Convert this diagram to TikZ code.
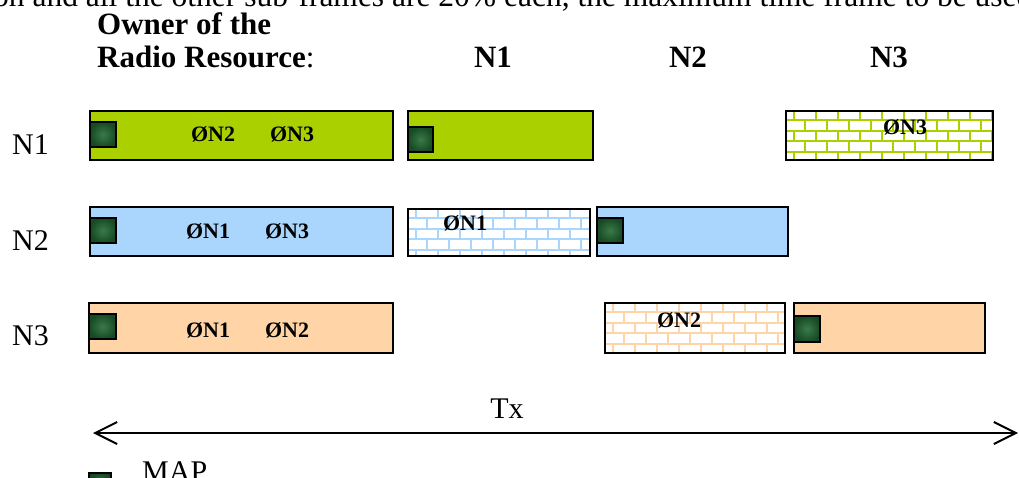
\documentclass[tikz,border=0pt]{standalone}
\usepackage{fontspec}
\setmainfont{Liberation Serif}
\usetikzlibrary{arrows.meta,calc}
\definecolor{cgreen}{HTML}{AAD000}
\definecolor{cblue}{HTML}{AAD5FC}
\definecolor{corange}{HTML}{FFD5A8}
\definecolor{mapdark}{HTML}{174A24}
\definecolor{mapmid}{HTML}{3A7A48}
\tikzset{
  frame/.style={draw=black, line width=2pt, inner sep=0pt, anchor=north west},
  bricks/.style={fill=white, path picture={
    \coordinate (bnw) at (path picture bounding box.north west);
    \foreach \k in {0,...,5} {
      \pgfmathsetmacro{\ya}{(\k-1)*10.7+9}
      \pgfmathsetmacro{\yb}{\ya+10.7}
      \pgfmathsetmacro{\off}{ifthenelse(mod(\k,2)==0,7.7,18.7)}
      \draw[#1, line width=2pt] ($(bnw)+(-5,\yb)$) -- ++(230,0);
      \foreach \j in {0,...,10} {\draw[#1, line width=2pt] ($(bnw)+({\off+22*\j},\ya)$) -- ++(0,10.7);}
    }}},
  mapsq/.style={draw=black, line width=2pt, inner sep=0pt, anchor=north west,
    inner color=mapmid, outer color=mapdark},
  boxtxt/.style={font=\fontsize{22}{24}\selectfont\bfseries, inner sep=0pt, anchor=base},
  head/.style={font=\fontsize{31}{33}\selectfont\bfseries, inner sep=0pt},
  lbl/.style={font=\fontsize{30}{32}\selectfont, inner sep=0pt},
  caplbl/.style={font=\fontsize{31.5}{33}\selectfont, inner sep=0pt},
}
\begin{document}
\begin{tikzpicture}[x=1pt,y=-1pt]
\useasboundingbox (0,0) rectangle (1019,478);
\clip (0,0) rectangle (1019,478);

% clipped caption line at the top
\node[caplbl, anchor=base west] (cap) at (-7,7) {on and all the other sub-frames are 20\% each, the maximum time frame to be used};

% headers
\node[head, anchor=base west] (own) at (97,35) {Owner of the};
\node[head, anchor=base west] (rr) at (97,68) {Radio Resource\textmd{:}};
\node[head, anchor=base] (h1) at (493,68) {N1};
\node[head, anchor=base] (h2) at (688,68) {N2};
\node[head, anchor=base] (h3) at (889,68) {N3};

% row labels
\node[lbl, anchor=base west] (r1) at (12,155) {N1};
\node[lbl, anchor=base west] (r2) at (12,251) {N2};
\node[lbl, anchor=base west] (r3) at (12,345) {N3};

% row N1
\node[frame, fill=cgreen, minimum width=303pt, minimum height=49pt] (g1) at (89,110) {};
\node[frame, fill=cgreen, minimum width=185pt, minimum height=49pt] (g2) at (407,110) {};
\node[frame, bricks=cgreen, minimum width=207pt, minimum height=49pt] (g3) at (785,110) {};
\node[mapsq, minimum width=26pt, minimum height=25pt] (m11) at (89,121) {};
\node[mapsq, minimum width=25pt, minimum height=25pt] (m12) at (407,126) {};
\node[boxtxt] (t11) at (213,142) {ØN2};
\node[boxtxt] (t12) at (292,142) {ØN3};
\node[boxtxt] (t13) at (905,135) {ØN3};

% row N2
\node[frame, fill=cblue, minimum width=303pt, minimum height=49pt] (b1) at (89,206) {};
\node[frame, bricks=cblue, minimum width=182pt, minimum height=47pt] (b2) at (407,208) {};
\node[frame, fill=cblue, minimum width=191pt, minimum height=49pt] (b3) at (596,206) {};
\node[mapsq, minimum width=26pt, minimum height=25pt] (m21) at (89,217) {};
\node[mapsq, minimum width=26pt, minimum height=25pt] (m23) at (596,217) {};
\node[boxtxt] (t21) at (208,239) {ØN1};
\node[boxtxt] (t22) at (287,239) {ØN3};
\node[boxtxt] (t23) at (465,231) {ØN1};

% row N3
\node[frame, fill=corange, minimum width=304pt, minimum height=50pt] (o1) at (88,302) {};
\node[frame, bricks=corange, minimum width=180pt, minimum height=50pt] (o2) at (604,302) {};
\node[frame, fill=corange, minimum width=191pt, minimum height=50pt] (o3) at (793,302) {};
\node[mapsq, minimum width=27pt, minimum height=25pt] (m31) at (88,313) {};
\node[mapsq, minimum width=26pt, minimum height=26pt] (m33) at (793,315) {};
\node[boxtxt] (t31) at (208,337) {ØN1};
\node[boxtxt] (t32) at (287,337) {ØN2};
\node[boxtxt] (t33) at (679,327) {ØN2};

% Tx arrow
\coordinate (txl) at (93,433);
\coordinate (txr) at (1018,433);
\draw[line width=2pt, {Straight Barb[length=22pt,width=22pt,line width=2pt]}-{Straight Barb[length=22pt,width=22pt,line width=2pt]}] (txl) -- (txr);
\node[lbl, anchor=base] (tx) at (507,418) {Tx};

% legend
\node[mapsq, minimum width=22pt, minimum height=22pt] (mleg) at (88,472) {};
\node[lbl, anchor=base west] (mlab) at (142,481) {MAP};
\end{tikzpicture}
\end{document}
